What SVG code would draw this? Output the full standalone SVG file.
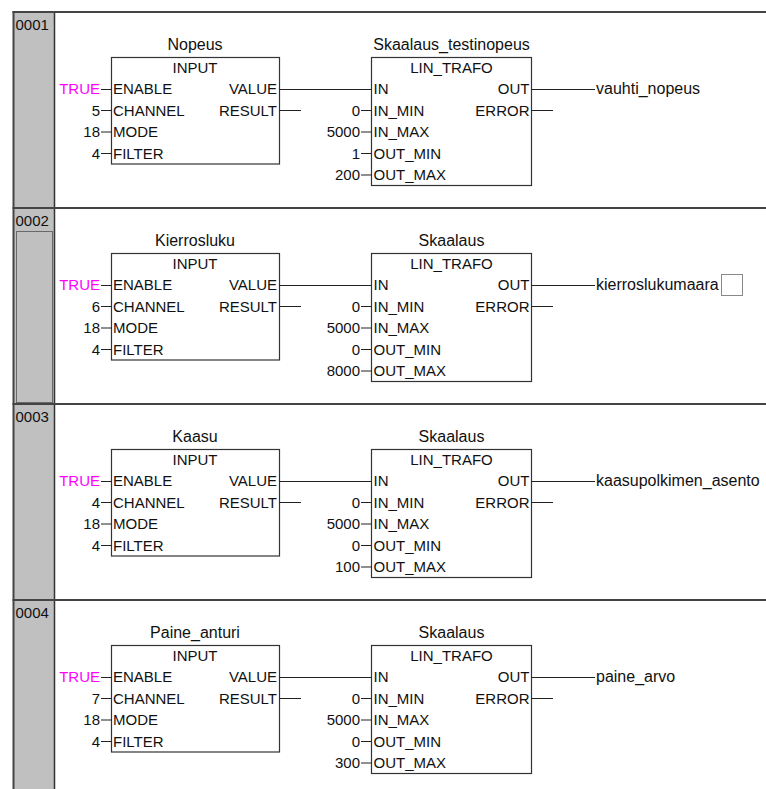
<svg xmlns="http://www.w3.org/2000/svg" width="766" height="789" viewBox="0 0 766 789">
<style>
text{font-family:"Liberation Sans",Arial,sans-serif;font-size:15px;fill:#111}
.m{text-anchor:middle}
.e{text-anchor:end}
.t{fill:#ff00ff}
.n{font-size:16px}
.blk{fill:#fff;stroke:#333;stroke-width:1.2}
.w{stroke:#222;stroke-width:1.2;fill:none}
.sep{stroke:#444;stroke-width:2}
.dot{fill:none;stroke:#111;stroke-width:1;stroke-dasharray:1 1}
</style>
<defs>
<g id="inputpins">
<text x="113" y="94">ENABLE</text>
<text x="113" y="115.5">CHANNEL</text>
<text x="113" y="137">MODE</text>
<text x="113" y="158.5">FILTER</text>
<text class="e" x="277" y="94">VALUE</text>
<text class="e" x="277" y="115.5">RESULT</text>
<text class="m" x="195" y="73">INPUT</text>
</g>
<g id="linpins">
<text x="373.5" y="94">IN</text>
<text x="373.5" y="115.5">IN_MIN</text>
<text x="373.5" y="137">IN_MAX</text>
<text x="373.5" y="158.5">OUT_MIN</text>
<text x="373.5" y="180">OUT_MAX</text>
<text class="e" x="529.5" y="94">OUT</text>
<text class="e" x="529.5" y="115.5">ERROR</text>
<text class="m" x="451.5" y="73">LIN_TRAFO</text>
</g>
</defs>
<rect width="766" height="789" fill="#fff"/>
<g id="rail">
<rect x="14" y="12" width="40.5" height="777" fill="#c0c0c0"/>
<line x1="13.5" y1="11" x2="13.5" y2="789" class="sep"/>
<line x1="54.5" y1="12" x2="54.5" y2="789" stroke="#333" stroke-width="1.5"/>
<line x1="12.5" y1="12" x2="766" y2="12" class="sep"/>
<line x1="12.5" y1="208" x2="766" y2="208" class="sep"/>
<line x1="12.5" y1="404" x2="766" y2="404" class="sep"/>
<line x1="12.5" y1="600" x2="766" y2="600" class="sep"/>
<rect x="16.5" y="231.5" width="36" height="171" class="dot"/>
<text x="15.5" y="30">0001</text>
<text x="15.5" y="226">0002</text>
<text x="15.5" y="422">0003</text>
<text x="15.5" y="618">0004</text>
</g>

<g id="net1_input">
<rect class="blk" x="111.5" y="57.5" width="168" height="106.5"/>
<text class="m n" x="195" y="50">Nopeus</text>
<use href="#inputpins"/>
<text class="e t" x="100" y="94">TRUE</text>
<text class="e" x="100" y="115.5">5</text>
<text class="e" x="100" y="137">18</text>
<text class="e" x="100" y="158.5">4</text>
</g>
<g id="net1_lin">
<rect class="blk" x="371.5" y="57.5" width="160" height="128"/>
<text class="m n" x="451.5" y="50">Skaalaus_testinopeus</text>
<use href="#linpins"/>
<text class="e" x="360" y="115.5">0</text>
<text class="e" x="360" y="137">5000</text>
<text class="e" x="360" y="158.5">1</text>
<text class="e" x="360" y="180">200</text>
<text class="n" x="596" y="94">vauhti_nopeus</text>
</g>

<g id="net2_input" transform="translate(0,196)">
<rect class="blk" x="111.5" y="57.5" width="168" height="106.5"/>
<text class="m n" x="195" y="50">Kierrosluku</text>
<use href="#inputpins"/>
<text class="e t" x="100" y="94">TRUE</text>
<text class="e" x="100" y="115.5">6</text>
<text class="e" x="100" y="137">18</text>
<text class="e" x="100" y="158.5">4</text>
</g>
<g id="net2_lin" transform="translate(0,196)">
<rect class="blk" x="371.5" y="57.5" width="160" height="128"/>
<text class="m n" x="451.5" y="50">Skaalaus</text>
<use href="#linpins"/>
<text class="e" x="360" y="115.5">0</text>
<text class="e" x="360" y="137">5000</text>
<text class="e" x="360" y="158.5">0</text>
<text class="e" x="360" y="180">8000</text>
<text class="n" x="596" y="94">kierroslukumaara</text>
<rect x="721.5" y="78.5" width="21" height="21" fill="#fff" class="dot"/>
</g>

<g id="net3_input" transform="translate(0,392)">
<rect class="blk" x="111.5" y="57.5" width="168" height="106.5"/>
<text class="m n" x="195" y="50">Kaasu</text>
<use href="#inputpins"/>
<text class="e t" x="100" y="94">TRUE</text>
<text class="e" x="100" y="115.5">4</text>
<text class="e" x="100" y="137">18</text>
<text class="e" x="100" y="158.5">4</text>
</g>
<g id="net3_lin" transform="translate(0,392)">
<rect class="blk" x="371.5" y="57.5" width="160" height="128"/>
<text class="m n" x="451.5" y="50">Skaalaus</text>
<use href="#linpins"/>
<text class="e" x="360" y="115.5">0</text>
<text class="e" x="360" y="137">5000</text>
<text class="e" x="360" y="158.5">0</text>
<text class="e" x="360" y="180">100</text>
<text class="n" x="596" y="94">kaasupolkimen_asento</text>
</g>

<g id="net4_input" transform="translate(0,588)">
<rect class="blk" x="111.5" y="57.5" width="168" height="106.5"/>
<text class="m n" x="195" y="50">Paine_anturi</text>
<use href="#inputpins"/>
<text class="e t" x="100" y="94">TRUE</text>
<text class="e" x="100" y="115.5">7</text>
<text class="e" x="100" y="137">18</text>
<text class="e" x="100" y="158.5">4</text>
</g>
<g id="net4_lin" transform="translate(0,588)">
<rect class="blk" x="371.5" y="57.5" width="160" height="128"/>
<text class="m n" x="451.5" y="50">Skaalaus</text>
<use href="#linpins"/>
<text class="e" x="360" y="115.5">0</text>
<text class="e" x="360" y="137">5000</text>
<text class="e" x="360" y="158.5">0</text>
<text class="e" x="360" y="180">300</text>
<text class="n" x="596" y="94">paine_arvo</text>
</g>

<g id="connectors">
<path id="wires" class="w" d="M101 89.5H111.5M101 110.5H111.5M101 132H111.5M101 153.5H111.5M279.5 89.5H371.5M279.5 110.5H301M361 110.5H371.5M361 132H371.5M361 153.5H371.5M361 175H371.5M531.5 89.5H595M531.5 110.5H553"/>
<use href="#wires" transform="translate(0,196)"/>
<use href="#wires" transform="translate(0,392)"/>
<use href="#wires" transform="translate(0,588)"/>
</g>
</svg>
